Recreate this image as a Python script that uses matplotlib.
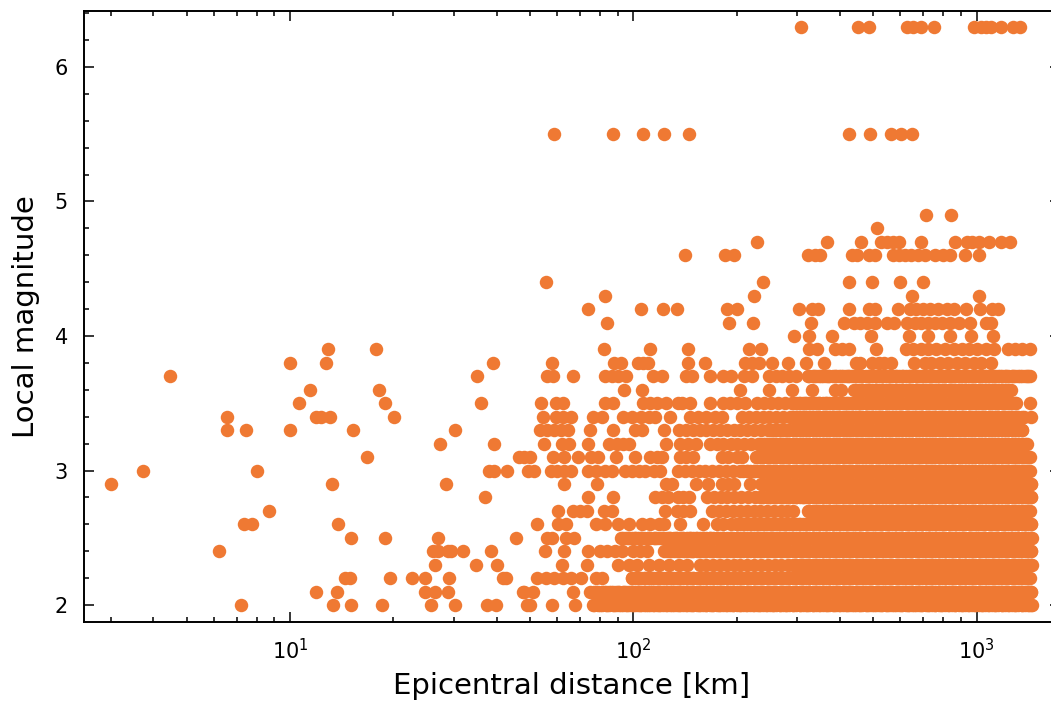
import matplotlib
matplotlib.use("Agg")
import matplotlib.pyplot as plt
from matplotlib.ticker import MultipleLocator

x_label = "Epicentral distance [km]"
y_label = "Local magnitude"
dot_color = "#EF7933"

m63 = [308, 451, 487, 627, 653, 689, 753, 986, 1028, 1063, 1105, 1178, 1275, 1334]
m55 = [58.8, 87, 106.6, 122.7, 145, 425, 490, 565, 603, 650]
m49 = [713, 845]
m48 = [512]
m47 = [229, 366, 461, 526, 550, 572, 593, 687, 867, 938, 971, 1016, 1087, 1178, 1253]
m46 = [141, 185, 196, 323, 338, 349, 435, 449, 485, 506, 569, 593, 617, 645, 675, 706, 757, 800, 834, 928, 1019]
m44 = [55.6, 238, 424, 497, 597, 697]
m43 = [82.6, 224, 650, 1016]
m42 = [74, 105.6, 122, 134, 187, 200, 303, 332, 345, 426, 485, 505, 589, 638, 667, 698, 731, 774, 819, 857, 934, 1025, 1112, 1151]
m41 = [84, 190, 223, 329, 411, 439, 459, 480, 506, 550, 576, 628, 660, 690, 723, 757, 791, 838, 887, 960, 1063, 1105]
m40 = [294, 324, 380, 493, 634, 721, 834, 964, 1117]
m39 = [12.9, 17.8, 82, 112, 144, 218, 235, 326, 342, 387, 405, 424, 511, 624, 653, 689, 723, 764, 810, 857, 908, 949, 1006, 1063, 1127, 1237, 1295, 1357, 1435]
m38 = [10, 12.7, 39, 58, 88, 92, 103, 107, 110, 144, 162, 212, 222, 232, 254, 282, 319, 359, 444, 456, 497, 520, 538, 563, 656, 706, 739, 783, 828, 877, 927, 982, 1028, 1100]
m37 = [4.47, 35, 56.2, 58.5, 66.5, 82.6, 86.5, 90.5, 95, 114, 121, 142.5, 148, 167, 182, 192, 210, 222, 248, 260, 272, 285, 298,
       323, 337, 352, 369, 386, 404, 423, 443, 464, 486, 509, 533, 558, 584, 612, 641, 671, 703, 736, 771, 807, 845, 885, 927, 971, 1016, 1064, 1114, 1167, 1222, 1280, 1340, 1403, 1435]
m36 = [11.4, 18.1, 94, 106, 204, 248, 290, 331, 387, 403,
       439, 460, 482, 505, 529, 554, 580, 607, 636, 666, 697, 730, 765, 801, 838, 857, 898, 940, 985, 1031, 1080, 1131, 1185, 1240, 1263]
m35 = [10.6, 18.9, 36, 54, 59.4, 62.2, 82.6, 87.5, 107, 112, 117.5, 124.5, 135, 139, 146, 167, 182, 191, 200, 212,
       230, 241, 252, 264, 276, 289, 303, 317, 332, 348, 364, 381, 399, 418, 438, 458, 480, 503, 526, 551, 577, 604, 633, 663, 694, 727, 761, 797, 834, 874, 915, 958, 1003, 1050, 1100, 1152, 1206, 1263, 1306, 1435]
m34 = [6.53, 11.9, 12.3, 13.1, 20.1, 54.6, 59.4, 62.2, 66, 76.4, 80.8, 93.6, 99, 105, 111, 116, 128, 146, 154, 163, 173, 181.6,
       207, 217, 227, 238, 249, 261, 273, 286, 299, 313, 328, 344, 360, 377, 395, 413, 433, 453, 475, 497, 521, 545, 571, 598, 626, 656, 687, 719, 753, 788, 826, 865, 905, 948, 993, 1040, 1089, 1140, 1194, 1250, 1310, 1370, 1440]
m33 = [6.56, 7.43, 10, 15.3, 30.3, 53.6, 56, 58.8, 61.5, 64.7, 75, 87, 101, 106, 123,
       136, 142, 149, 156, 163, 171, 179, 187, 196, 205, 215, 225, 236, 247, 258, 270, 283, 297, 311, 325, 341, 357, 374, 391, 410, 429, 449, 470, 492, 515, 540, 565, 592, 620, 649, 680, 712, 745, 780, 817, 855, 896, 938, 982, 1028, 1077, 1127, 1181, 1236, 1294, 1360]
m32 = [27.3, 39.2, 55, 61.8, 65, 73.8, 85, 89.5, 93.6, 97.2, 124.4, 137, 144, 152.5,
       167, 175, 183, 192, 201, 210, 220, 231, 242, 253, 265, 278, 291, 304, 319, 334, 350, 366, 383, 401, 420, 440, 461, 482, 505, 529, 554, 580, 607, 636, 666, 697, 730, 764, 800, 838, 877, 919, 962, 1007, 1055, 1104, 1156, 1211, 1268, 1328, 1403]
m31 = [16.8, 46.6, 47.9, 49.9, 58.5, 62.7, 68.9, 75.5, 79, 89, 100.9, 112, 117.6, 121.6, 137, 142.5, 149, 181, 189, 200, 207,
       227, 238, 249, 260, 273, 285, 299, 313, 327, 343, 359, 376, 394, 412, 432, 452, 473, 496, 519, 543, 569, 596, 624, 653, 684, 716, 750, 785, 822, 861, 901, 944, 988, 1035, 1083, 1134, 1188, 1243, 1302, 1363, 1435]
m30 = [3.74, 8.0, 38, 39.3, 42.9, 49.2, 51.5, 57.4, 60, 62.9, 65.9, 73.8, 78, 82.6, 86.5, 94.7, 99, 103.7, 108.5, 115, 120,
       135, 141, 148, 155, 162, 170, 178, 186, 195, 204, 214, 224, 235, 246, 257, 269, 282, 295, 309, 323, 339, 354, 371, 389, 407, 426, 446, 467, 489, 512, 536, 561, 587, 615, 644, 674, 706, 739, 774, 810, 848, 888, 930, 973, 1019, 1067, 1117, 1170, 1224, 1282, 1342, 1405, 1435]
m29 = [3.01, 13.25, 28.5, 62.7, 78.6, 124.4, 130, 152, 165, 181, 189, 197, 219,
       235, 246, 258, 270, 282, 296, 310, 324, 339, 355, 372, 389, 408, 427, 447, 468, 490, 513, 537, 562, 589, 616, 645, 676, 707, 741, 775, 812, 850, 890, 932, 975, 1021, 1069, 1119, 1172, 1227, 1284, 1345, 1408, 1440]
m28 = [36.9, 74, 87.5, 116, 121.6, 126, 134.6, 139.4, 145,
       164, 172, 180, 188, 197, 206, 216, 226, 237, 248, 259, 271, 284, 298, 312, 326, 342, 358, 374, 392, 410, 430, 450, 471, 493, 516, 540, 566, 592, 620, 649, 680, 711, 745, 780, 816, 855, 895, 937, 981, 1027, 1075, 1126, 1179, 1234, 1292, 1353, 1416, 1440]
m27 = [8.7, 60.3, 66.9, 69.7, 73.3, 82.2, 86.5, 123.5, 134, 139.4, 146.6,
       170, 178, 186, 195, 204, 214, 224, 234, 245, 257, 269, 281, 291,
       323, 338, 354, 371, 388, 406, 425, 445, 466, 488, 511, 535, 560, 586, 614, 642, 673, 704, 737, 772, 808, 846, 886, 927, 971, 1016, 1064, 1114, 1166, 1221, 1278, 1338, 1401, 1430]
m26 = [7.33, 7.77, 13.8, 52.5, 60.5, 63.7, 77.6, 82.6, 90.5, 96.9, 106, 112, 119, 123, 137, 160,
       175, 183, 192, 201, 210, 220, 230, 241, 252, 264, 277, 290, 303, 318, 333, 348, 365, 382, 400, 418, 438, 459, 480, 503, 526, 551, 577, 604, 632, 662, 693, 726, 760, 796, 833, 872, 913, 956, 1001, 1048, 1097, 1149, 1203, 1259, 1318, 1380, 1440]
m25 = [15, 18.9, 26.9, 45.6, 56.2, 58, 63.7, 67.3,
       92, 96.4, 101, 105.6, 110.5, 116, 121, 127, 133, 139, 146, 152.5, 160, 167, 175, 183, 192, 201, 210, 220, 231, 242, 253, 265, 277, 290, 304, 318, 333, 349, 365, 382, 400, 419, 439, 459, 481, 503, 527, 552, 578, 605, 633, 663, 694, 727, 761, 797, 834, 873, 914, 957, 1002, 1049, 1098, 1150, 1204, 1260, 1319, 1381, 1450]
m24 = [6.2, 26, 27, 28.9, 29.4, 31.8, 38.5, 55.3, 62.7, 74, 79.8, 83.6, 88.5, 92.5, 100, 104.9, 109.8,
       123, 129, 135, 141, 148, 155, 162, 170, 178, 186, 195, 204, 214, 224, 234, 245, 257, 269, 281, 295, 308, 323, 338, 354, 371, 388, 406, 425, 445, 466, 488, 511, 535, 560, 586, 614, 642, 673, 704, 737, 772, 808, 846, 886, 927, 971, 1016, 1064, 1114, 1166, 1221, 1278, 1338, 1401, 1440]
m23 = [26.4, 34.8, 40, 62, 73.4, 90.5, 96.9, 102.5, 111, 119, 127, 136, 143,
       156, 163, 171, 179, 187, 196, 205, 215, 225, 236, 247, 258, 270, 283, 296, 310, 325, 340, 356, 373, 390, 409, 428, 448, 469, 491, 514, 538, 563, 590, 617, 646, 677, 708, 742, 776, 813, 851, 891, 933, 976, 1022, 1070, 1120, 1173, 1228, 1285, 1346, 1409, 1450]
m22 = [14.5, 14.9, 19.6, 22.6, 24.8, 29, 41.7, 42.6, 52.5, 55.5, 58.8, 62.2, 65.9, 70.4, 77.6, 81.3,
       99, 103.6, 108.5, 113.6, 119, 124.5, 130, 136.5, 143, 149.5, 156.5, 164, 171.5, 179.5, 188, 197, 206, 216, 226, 236.5, 247.5, 259, 271.5, 284, 297, 311, 326, 341, 357, 374, 391.5, 410, 429, 449, 470, 492, 515, 539, 564.5, 591, 619, 648, 678, 710, 743, 778, 814, 852, 892, 934, 978, 1024, 1072, 1122, 1175, 1230, 1288, 1348, 1411, 1430]
m21 = [11.9, 13.7, 24.8, 26.4, 28.9, 47.7, 47.9, 51, 66.9,
       74.6, 78, 82, 86, 90, 94, 98.5, 103, 108, 113, 118, 123.5, 129.5, 135.5, 142, 148.5, 155.5, 163, 170.5, 178.5, 187, 195.5, 205, 214.5, 224.5, 235, 246, 257.5, 269.5, 282, 295.5, 309, 324, 339, 355, 371.5, 389, 407, 426, 446, 467, 489, 512, 536, 561, 587, 615, 644, 674, 706, 739, 773, 809, 847, 887, 928, 972, 1017, 1065, 1115, 1167, 1222, 1279, 1339, 1402, 1440]
m20 = [7.18, 13.3, 15, 18.5, 25.7, 30.2, 37.5, 39.8, 49, 50, 58, 67.7,
       76.5, 80, 84, 88, 92, 96, 100, 104.5, 109, 114, 119, 124.5, 130, 136, 142, 148.5, 155.5, 162.5, 170, 178, 186, 195, 204, 213, 223, 233, 244, 255, 267, 279, 292, 305.5, 320, 334.5, 350, 366, 383, 401, 419.5, 439, 459, 480, 502, 525.5, 550, 575, 602, 630, 659, 689.5, 721, 754.5, 789.5, 826, 864, 904, 946, 990, 1035.5, 1083, 1133, 1185, 1240, 1297, 1356, 1418, 1455]

magnitudes = [6.3, 5.5, 4.9, 4.8, 4.7, 4.6, 4.4, 4.3, 4.2, 4.1, 4.0, 3.9, 3.8, 3.7, 3.6, 3.5, 3.4, 3.3, 3.2, 3.1, 3.0,
              2.9, 2.8, 2.7, 2.6, 2.5, 2.4, 2.3, 2.2, 2.1, 2.0]
distances = [m63, m55, m49, m48, m47, m46, m44, m43, m42, m41, m40, m39, m38, m37, m36, m35, m34, m33, m32, m31, m30,
             m29, m28, m27, m26, m25, m24, m23, m22, m21, m20]

# Additional events in the saturated part of each row, where single dots cannot be told apart.
crowded_km = [77, 79, 81, 83, 85, 87, 89, 91, 93, 95, 97, 99, 101, 103, 105.5, 107.5, 110, 112, 115, 117, 120, 122, 125, 128,
              131, 134, 137, 140, 143, 146, 149.5, 153, 156, 160, 163, 167, 171, 175, 179, 183, 187, 191, 195.5, 200, 204.5, 209, 214, 219, 224, 229,
              234, 239, 244.5, 250, 255, 261, 267, 273, 279, 285, 292, 298, 305, 312, 319, 326, 333, 341, 348, 356, 364, 372, 381, 389, 398, 407, 416,
              425, 435, 445, 455, 465, 475, 486, 497, 508, 520, 531, 543, 555, 568, 581, 594, 607, 621, 635, 649, 664, 679, 694, 710, 726, 742, 759,
              776, 793, 811, 829, 848, 867, 887, 907, 927, 948, 969, 991, 1013, 1036, 1060, 1084, 1108, 1133, 1158, 1184, 1211, 1238, 1266, 1295, 1324, 1354, 1384, 1415, 1440]
crowded_mags = [3.7, 3.6, 3.5, 3.4, 3.3, 3.2, 3.1, 3.0, 2.9, 2.8, 2.7, 2.6, 2.5, 2.4, 2.3, 2.2, 2.1, 2.0]
crowded_from = [323, 439, 290, 290, 250, 230, 227, 205, 235, 230, 323, 200, 92, 123, 290, 99, 76, 76]
crowded_to = [1430, 1263, 1306, 1370, 1360, 1403, 1430, 1430, 1440, 1440, 1430, 1440, 1450, 1440, 1450, 1430, 1440, 1455]

W, H, DPI = 1051, 702, 200
fig = plt.figure(figsize=(W / DPI, H / DPI), dpi=DPI)
ax = fig.add_axes([84 / W, 1 - 622 / H, (1060 - 84) / W, (622 - 11) / H])

for mag, dist in zip(magnitudes, distances):
    ax.scatter(dist, [mag] * len(dist), s=23.5, color=dot_color, linewidths=0, zorder=2)
for mag, lo, hi in zip(crowded_mags, crowded_from, crowded_to):
    extra = [d for d in crowded_km if lo <= d <= hi]
    ax.scatter(extra, [mag] * len(extra), s=23.5, color=dot_color, linewidths=0, zorder=2)

ax.set_xscale("log")
ax.set_xlim(2.51, 1750)
ax.set_ylim(1.874, 6.416)
ax.yaxis.set_major_locator(MultipleLocator(1))
ax.yaxis.set_minor_locator(MultipleLocator(0.2))
ax.tick_params(which="both", direction="in", top=True, right=True, width=0.55, labelsize=7.5)
ax.tick_params(which="major", length=3.6, pad=5.8)
ax.tick_params(which="minor", length=1.8)
for s in ax.spines.values():
    s.set_linewidth(0.7)
ax.set_xlabel(x_label, fontsize=10.5, labelpad=3.3)
ax.set_ylabel(y_label, fontsize=10.5, labelpad=5.2)
fig.savefig("out.png", dpi=DPI)
